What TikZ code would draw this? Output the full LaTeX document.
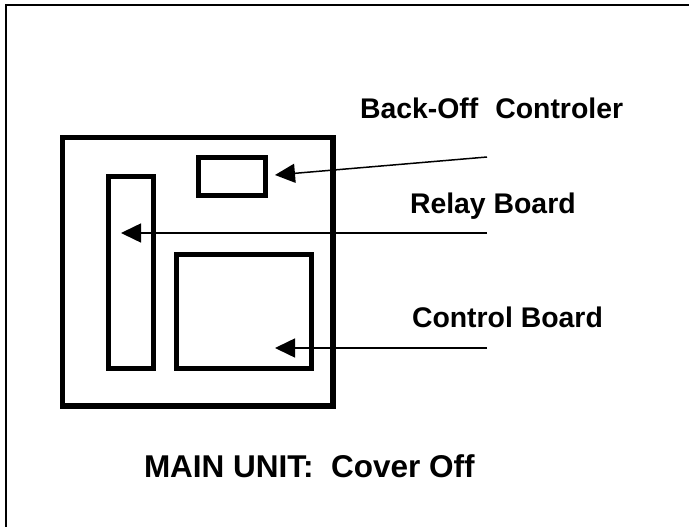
\documentclass[tikz,border=0pt]{standalone}
\usepackage{fontspec}
\setmainfont{Liberation Sans}
\usetikzlibrary{arrows.meta}
\tikzset{
  unitbox/.style={draw=black, line width=5.5pt, inner sep=0pt, outer sep=0pt, fill=none},
  partbox/.style={draw=black, line width=5pt, inner sep=0pt, outer sep=0pt},
  pointer/.style={draw=black, line width=1.5pt, -{Triangle[length=20pt,width=19pt]}},
  lbl/.style={inner sep=0pt, outer sep=0pt, font=\fontsize{28.4}{34}\selectfont\bfseries},
  title/.style={inner sep=0pt, outer sep=0pt, font=\fontsize{31.5}{38}\selectfont\bfseries},
  frame/.style={draw=black, line width=2pt}
}
\begin{document}
\begin{tikzpicture}[x=1pt,y=-1pt]
\useasboundingbox (0,0) rectangle (689,527);
% page frame (only left and top edges visible)
\coordinate (fbl) at (6,530);
\coordinate (ftl) at (6,5);
\coordinate (ftr) at (692,5);
\draw[frame] (fbl) -- (ftl) -- (ftr);
% boxes
\node[unitbox, minimum width=270.5pt, minimum height=268.5pt] (main) at (197.75,271.75) {};
\node[partbox, minimum width=67pt, minimum height=38pt] (backoff) at (231.5,176) {};
\node[partbox, minimum width=45pt, minimum height=192pt] (relay) at (130.5,272) {};
\node[partbox, minimum width=135pt, minimum height=114pt] (control) at (243.5,311) {};
% labels
\node[lbl, anchor=base west] (lb) at (360,118) {Back-Off\hspace{17pt}Controler};
\node[lbl, anchor=base west] (lr) at (410,213) {Relay Board};
\node[lbl, anchor=base west] (lc) at (412,327) {Control Board};
\node[title, anchor=base west] (lt) at (144,477) {MAIN UNIT:\ \ Cover Off};
% pointer ends
\coordinate (bA) at (487,157);
\coordinate (rA) at (487,233);
\coordinate (cA) at (487,348);
\coordinate (bT) at (275,175);
\coordinate (rT) at (121,233);
\coordinate (cT) at (275,348);
\draw[pointer] (bA) -- (bT);
\draw[pointer] (rA) -- (rT);
\draw[pointer] (cA) -- (cT);
\end{tikzpicture}
\end{document}
